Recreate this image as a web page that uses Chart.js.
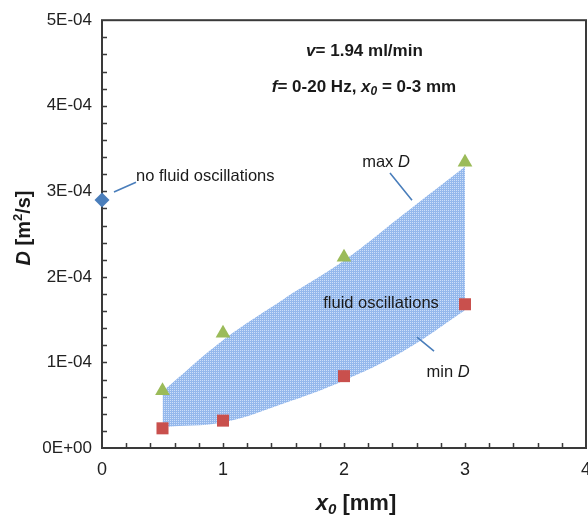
<!DOCTYPE html>
<html><head><meta charset="utf-8">
<script src="https://cdn.jsdelivr.net/npm/chart.js@4.4.1/dist/chart.umd.min.js"></script>
<style>html,body{margin:0;padding:0;background:#fff;overflow:hidden}#wrap{width:588px;height:515px}canvas{display:block}</style>
</head><body><div id="wrap"><canvas id="c" width="588" height="515"></canvas></div>
<script>
// ---- data ----
const noOscX = [0];
const noOscD = [2.9e-4];
const x0Values = [0.5, 1, 2, 3];
const maxD = [6.7e-5, 1.34e-4, 2.23e-4, 3.34e-4];
const minD = [2.3e-5, 3.2e-5, 8.4e-5, 1.68e-4];
const edgeX = [0.5, 1, 1.5, 2, 2.5, 3];
const upperEdge = [6.6e-5, 1.26e-4, 1.74e-4, 2.19e-4, 2.74e-4, 3.29e-4];
const lowerEdge = [2.45e-5, 3.0e-5, 5.2e-5, 7.9e-5, 1.14e-4, 1.61e-4];
const xTickValues = [0, 1, 2, 3, 4];
const xTickLabels = ['0', '1', '2', '3', '4'];
const yTickLabels = ['0E+00', '1E-04', '2E-04', '3E-04', '4E-04', '5E-04'];

const FAM = '"Liberation Sans", Arial, sans-serif';
const pts = (xs, ys) => xs.map((v, i) => ({x: v, y: ys[i]}));

// dotted fill pattern
const pc = document.createElement('canvas'); pc.width = 2; pc.height = 2;
const pcx = pc.getContext('2d');
pcx.fillStyle = 'rgb(148,184,236)'; pcx.fillRect(0, 0, 2, 2);
pcx.fillStyle = 'rgb(205,223,249)'; pcx.fillRect(0, 0, 1, 1);
const pattern = document.getElementById('c').getContext('2d').createPattern(pc, 'repeat');

function drawRich(ctx, segs, x, y, align) {
  let w = 0;
  segs.forEach(s => { ctx.font = s.f; w += ctx.measureText(s.t).width; });
  let cx = align === 'center' ? x - w / 2 : x;
  segs.forEach(s => { ctx.font = s.f; ctx.fillText(s.t, cx, y + (s.dy || 0)); cx += ctx.measureText(s.t).width; });
}

const frame = {
  id: 'frame',
  beforeDatasetsDraw(chart) {
    const {ctx, chartArea: a, scales: {x, y}} = chart;
    ctx.save();
    ctx.strokeStyle = '#3a3a3a';
    ctx.lineWidth = 1.5;
    ctx.beginPath();
    for (let k = 1; k < 20; k++) {
      const px = Math.round(x.getPixelForValue(k * 0.2)) + 0.5;
      ctx.moveTo(px, a.bottom); ctx.lineTo(px, a.bottom - 5);
    }
    for (let k = 1; k < 25; k++) {
      const py = Math.round(y.getPixelForValue(k * 2e-5)) + 0.5;
      ctx.moveTo(a.left, py); ctx.lineTo(a.left + 5, py);
    }
    ctx.stroke();
    ctx.lineWidth = 2;
    ctx.strokeRect(a.left, a.top, a.width, a.height);
    // x tick labels
    ctx.fillStyle = '#222';
    ctx.font = '18px ' + FAM;
    ctx.textAlign = 'center';
    ctx.textBaseline = 'alphabetic';
    xTickValues.forEach((v, i) => ctx.fillText(xTickLabels[i], x.getPixelForValue(v), a.bottom + 27));
    ctx.restore();
  }
};

const notes = {
  id: 'notes',
  afterDatasetsDraw(chart) {
    const {ctx, scales: {x, y}} = chart;
    const X = v => x.getPixelForValue(v), Y = v => y.getPixelForValue(v);
    ctx.save();
    ctx.fillStyle = '#1a1a1a';
    ctx.textBaseline = 'alphabetic';
    const R = '16.5px ' + FAM, I = 'italic 16.5px ' + FAM;
    const B = 'bold 17px ' + FAM, BI = 'italic bold 17px ' + FAM, BIs = 'italic bold 12px ' + FAM;
    drawRich(ctx, [{t: 'v', f: BI}, {t: '= 1.94 ml/min', f: B}], X(2.169), Y(4.579e-4), 'center');
    drawRich(ctx, [{t: 'f', f: BI}, {t: '= 0-20 Hz, ', f: B}, {t: 'x', f: BI}, {t: '0', f: BIs, dy: 3}, {t: ' = 0-3 mm', f: B}], X(2.165), Y(4.159e-4), 'center');
    drawRich(ctx, [{t: 'no fluid oscillations', f: R}], X(0.281), Y(3.119e-4), 'left');
    drawRich(ctx, [{t: 'max ', f: R}, {t: 'D', f: I}], X(2.347), Y(3.283e-4), 'center');
    drawRich(ctx, [{t: 'fluid oscillations', f: R}], X(2.306), Y(1.636e-4), 'center');
    drawRich(ctx, [{t: 'min ', f: R}, {t: 'D', f: I}], X(2.86), Y(0.829e-4), 'center');
    // leader lines
    ctx.strokeStyle = '#4a7ebb'; ctx.lineWidth = 1.6;
    ctx.beginPath();
    ctx.moveTo(X(0.099), Y(2.991e-4)); ctx.lineTo(X(0.281), Y(3.107e-4));
    ctx.moveTo(X(2.380), Y(3.213e-4)); ctx.lineTo(X(2.562), Y(2.897e-4));
    ctx.moveTo(X(2.603), Y(1.297e-4)); ctx.lineTo(X(2.744), Y(1.133e-4));
    ctx.stroke();
    ctx.restore();
  },
  afterDraw(chart) {
    const ctx = chart.ctx;
    ctx.save();
    ctx.fillStyle = '#1a1a1a';
    ctx.textBaseline = 'middle';
    ctx.translate(24, 228); ctx.rotate(-Math.PI / 2);
    drawRich(ctx, [{t: 'D', f: 'italic bold 20px ' + FAM}, {t: ' [m', f: 'bold 20px ' + FAM}, {t: '2', f: 'bold 13px ' + FAM, dy: -6}, {t: '/s]', f: 'bold 20px ' + FAM}], 0, 0, 'center');
    ctx.restore();
    ctx.save();
    ctx.fillStyle = '#1a1a1a';
    ctx.textBaseline = 'alphabetic';
    drawRich(ctx, [{t: 'x', f: 'italic bold 22px ' + FAM}, {t: '0', f: 'italic bold 15px ' + FAM, dy: 4}, {t: ' [mm]', f: 'bold 22px ' + FAM}], 356, 510, 'center');
    ctx.restore();
  }
};

new Chart(document.getElementById('c'), {
  type: 'scatter',
  data: {
    datasets: [
      {label: 'no fluid oscillations', data: pts(noOscX, noOscD), pointStyle: 'rectRot', pointRadius: 7.5,
        backgroundColor: '#4a7ebb', borderColor: '#4a7ebb', borderWidth: 0, clip: false},
      {label: 'max D', data: pts(x0Values, maxD), pointStyle: 'triangle', pointRadius: 8.5,
        backgroundColor: '#9bbb59', borderColor: '#9bbb59', borderWidth: 0, clip: false},
      {label: 'min D', data: pts(x0Values, minD), pointStyle: 'rect', pointRadius: 8.5,
        backgroundColor: '#c9504d', borderColor: '#c9504d', borderWidth: 0, clip: false},
      {label: 'upper', data: pts(edgeX, upperEdge), showLine: true, pointRadius: 0, borderWidth: 0,
        borderColor: 'rgba(0,0,0,0)', tension: 0.4, fill: '+1', backgroundColor: pattern},
      {label: 'lower', data: pts(edgeX, lowerEdge), showLine: true, pointRadius: 0, borderWidth: 0,
        borderColor: 'rgba(0,0,0,0)', tension: 0.4, fill: false}
    ]
  },
  options: {
    responsive: false,
    animation: false,
    devicePixelRatio: 1,
    layout: {autoPadding: false, padding: {top: 20, right: 2, bottom: 0, left: 0}},
    plugins: {legend: {display: false}, tooltip: {enabled: false}},
    scales: {
      x: {
        type: 'linear', min: 0, max: 4,
        ticks: {display: false, stepSize: 1},
        grid: {display: false, drawTicks: false}, border: {display: false},
        afterFit(s) { s.height = 67; s.paddingRight = 0; s.paddingLeft = 0; }
      },
      y: {
        min: 0, max: 5e-4,
        ticks: {stepSize: 1e-4, autoSkip: false, padding: 10, color: '#222',
          font: {family: FAM, size: 17}, callback: (v, i) => yTickLabels[i]},
        grid: {display: false, drawTicks: false}, border: {display: false},
        afterFit(s) { s.width = 102; }
      }
    }
  },
  plugins: [frame, notes]
});
</script></body></html>
